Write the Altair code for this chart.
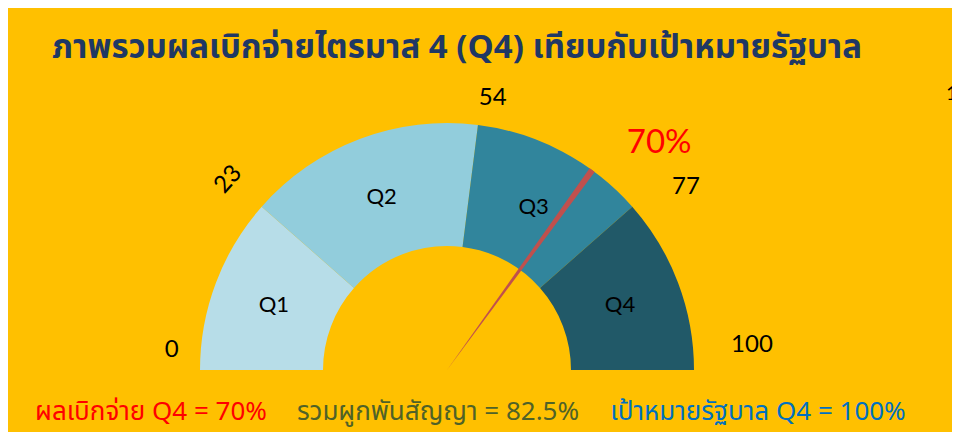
import math
import altair as alt
import pandas as pd

# ---------------- data ----------------
quarters = ["Q1", "Q2", "Q3", "Q4"]
bounds = [0, 23, 54, 77, 100]          # cumulative quarter targets (%)
actual_q4 = 70                         # disbursement Q4 (%)
committed = 82.5                       # total committed (%)
target_q4 = 100                        # government target Q4 (%)

title_text = "ภาพรวมผลเบิกจ่ายไตรมาส 4 (Q4) เทียบกับเป้าหมายรัฐบาล"
footer_texts = [
    "ผลเบิกจ่าย Q4 = 70%",
    "รวมผูกพันสัญญา = 82.5%",
    "เป้าหมายรัฐบาล Q4 = 100%",
]

# ---------------- style / layout ----------------
seg_colors = ["#B7DDE8", "#92CDDC", "#31859C", "#215968"]
footer_colors = ["#FF0000", "#4F6228", "#0070C0"]
footer_x = [143, 430, 750]
BG = "#FFC000"
W, H = 944, 424
CX, CY = 439, 362
R_OUT, R_IN = 247, 124
THAI_FONT = "Noto Sans Thai, Tahoma, Leelawadee UI, Noto Sans, DejaVu Sans, sans-serif"
NUM_FONT = "Lato"
# label placement nudges (angle in gauge units, radius in px, rotation)
tick_nudge = [2.3, -0.2, 1.3, 2.2, -2.6]
tick_radius = [276, 290, 276, 301, 306]
tick_angle = [0, 312, 0, 0, 0]

theta_scale = alt.Scale(domain=[0, 100], range=[-math.pi / 2, math.pi / 2])

seg_df = pd.DataFrame({
    "quarter": quarters,
    "start": bounds[:-1],
    "end": bounds[1:],
})
tick_df = pd.DataFrame({
    "value": bounds,
    "nudge": tick_nudge,
    "rad": tick_radius,
    "ang": tick_angle,
})
needle_df = pd.DataFrame({"value": [actual_q4]})
footer_df = pd.DataFrame({"text": footer_texts, "color": footer_colors, "fx": footer_x})

segments = alt.Chart(seg_df).mark_arc(radius=R_OUT, radius2=R_IN).encode(
    theta=alt.Theta("start:Q", scale=theta_scale),
    theta2="end:Q",
    color=alt.Color("quarter:N", scale=alt.Scale(domain=quarters, range=seg_colors), legend=None),
    x=alt.value(CX),
    y=alt.value(CY),
)

q_labels = alt.Chart(seg_df).transform_calculate(
    mid="(datum.start + datum.end) / 2"
).mark_text(radius=185, fontSize=22, font=NUM_FONT, color="black").encode(
    theta=alt.Theta("mid:Q", scale=theta_scale),
    text="quarter:N",
    x=alt.value(CX),
    y=alt.value(CY),
)

needle = alt.Chart(needle_df).transform_calculate(
    a="datum.value - 0.4", b="datum.value + 0.4"
).mark_arc(radius=R_OUT, radius2=0, color="#C0504D").encode(
    theta=alt.Theta("a:Q", scale=theta_scale),
    theta2="b:Q",
    x=alt.value(CX),
    y=alt.value(CY),
)

needle_label = alt.Chart(needle_df).transform_calculate(
    t="datum.value + 3.9", label="datum.value + '%'"
).mark_text(radius=311, fontSize=33, font=NUM_FONT, color="#FF0000").encode(
    theta=alt.Theta("t:Q", scale=theta_scale),
    text="label:N",
    x=alt.value(CX),
    y=alt.value(CY),
)

tick_labels = alt.Chart(tick_df).transform_calculate(
    t="datum.value + datum.nudge", label="'' + datum.value"
).mark_text(fontSize=24, font=NUM_FONT, color="black").encode(
    theta=alt.Theta("t:Q", scale=theta_scale),
    radius=alt.Radius("rad:Q", scale=None),
    angle=alt.Angle("ang:Q", scale=None),
    text="label:N",
    x=alt.value(CX),
    y=alt.value(CY),
)

stray = alt.Chart(pd.DataFrame({"t": ["1"]})).mark_text(
    fontSize=20, font=NUM_FONT, color="black", align="left"
).encode(text="t:N", x=alt.value(938), y=alt.value(86))

title = alt.Chart(pd.DataFrame({"t": [title_text]})).mark_text(
    fontSize=33, fontWeight="bold", font=THAI_FONT, color="#1F3864",
    align="center", baseline="alphabetic"
).encode(text="t:N", x=alt.value(449), y=alt.value(50))

footer = alt.Chart(footer_df).mark_text(
    fontSize=26, font=THAI_FONT, align="center", baseline="middle"
).encode(
    text="text:N",
    x=alt.X("fx:Q", scale=None),
    y=alt.value(404),
    color=alt.Color("color:N", scale=None),
)

chart = alt.layer(
    segments, needle, q_labels, tick_labels, needle_label, stray, title, footer
).properties(
    width=W, height=H, background=BG, padding=0,
    autosize=alt.AutoSizeParams(type="none"),
).configure_view(stroke=None)

chart.save("out.html", embed_options={"renderer": "svg", "actions": False})
